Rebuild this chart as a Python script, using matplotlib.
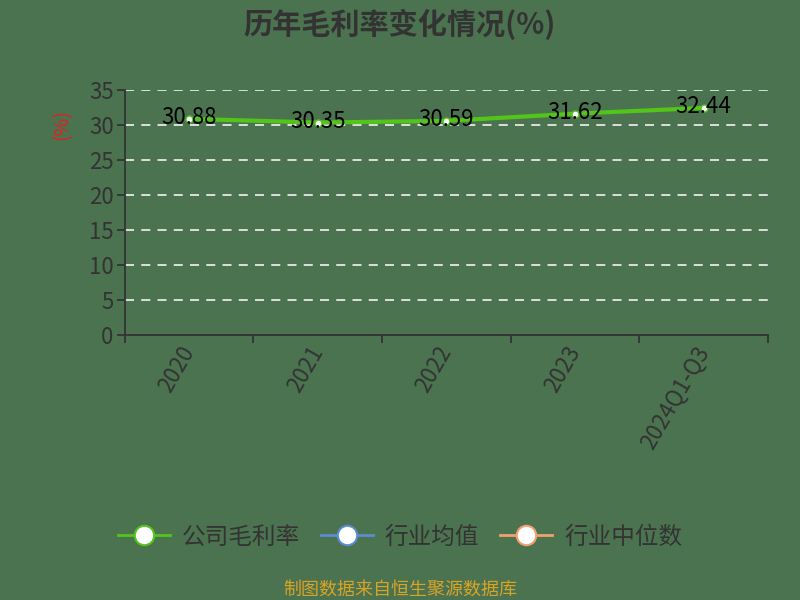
import matplotlib
matplotlib.use("Agg")
import matplotlib.pyplot as plt
from matplotlib.lines import Line2D

plt.rcParams['font.family'] = ['Noto Sans CJK SC', 'DejaVu Sans']

categories = ["2020", "2021", "2022", "2023", "2024Q1-Q3"]
gross_margin = [30.88, 30.35, 30.59, 31.62, 32.44]
y_ticks = [0, 5, 10, 15, 20, 25, 30, 35]

bg = "#4b7350"
dark = "#333333"
green = "#52c41a"

fig = plt.figure(figsize=(8, 6), dpi=100, facecolor=bg)
ax = fig.add_axes([0.156, 0.4417, 0.804, 0.4083], facecolor=bg)

x = list(range(len(categories)))
ax.plot(x, gross_margin, color=green, lw=3, marker='o', markersize=5,
        markerfacecolor='white', markeredgecolor=green, markeredgewidth=1, zorder=3)
for xi, v in zip(x, gross_margin):
    ax.text(xi, v + 0.2, f"{v:.2f}", ha='center', va='center', fontsize=16,
            color='black', zorder=4)

ax.set_xlim(-0.5, len(categories) - 0.5)
ax.set_ylim(0, 35)
ax.set_yticks(y_ticks)
ax.set_yticklabels([str(t) for t in y_ticks], fontsize=16, color=dark)
for t in y_ticks[1:]:
    ax.axhline(t, color='#e8e8e8', lw=1.3, ls=(0, (5, 4)), zorder=1)

ax.set_xticks([i - 0.5 for i in range(len(categories) + 1)])
ax.set_xticklabels([])
ax.set_xticks(x, minor=True)
ax.set_xticklabels(categories, minor=True, rotation=60, ha='right', va='center',
                   rotation_mode='anchor', fontsize=16, color=dark)
ax.tick_params(axis='x', which='minor', length=0, pad=9)
ax.tick_params(axis='x', which='major', length=6, color=dark, width=1.3)
ax.tick_params(axis='y', length=6, color=dark, width=1.3, pad=2)

for s in ['top', 'right']:
    ax.spines[s].set_visible(False)
for s in ['left', 'bottom']:
    ax.spines[s].set_color(dark)
    ax.spines[s].set_linewidth(1.3)

fig.text(62 / 800, 1 - 125 / 600, "(%)", color='#dd2222', fontsize=14,
         rotation=90, ha='center', va='center')

fig.text(0.5, 0.96, "历年毛利率变化情况(%)", ha='center', va='center',
         fontsize=21, fontweight='bold', color=dark)

handles = [
    Line2D([], [], color=green, lw=2, marker='o', markersize=14,
           markerfacecolor='white', markeredgecolor=green, markeredgewidth=1.5),
    Line2D([], [], color='#5b8bd0', lw=2, marker='o', markersize=14,
           markerfacecolor='white', markeredgecolor='#5b8bd0', markeredgewidth=1.5),
    Line2D([], [], color='#f0a070', lw=2, marker='o', markersize=14,
           markerfacecolor='white', markeredgecolor='#f0a070', markeredgewidth=1.5),
]
labels = ["公司毛利率", "行业均值", "行业中位数"]
leg = fig.legend(handles, labels, loc='center', bbox_to_anchor=(0.5, 0.105),
                 ncol=3, frameon=False, fontsize=17, handlelength=2.2,
                 columnspacing=0.9, handletextpad=0.5)
for t in leg.get_texts():
    t.set_color(dark)

fig.text(0.5, 0.018, "制图数据来自恒生聚源数据库", ha='center', va='center',
         fontsize=13, color='#d9a326')

fig.savefig("out.png", dpi=100, facecolor=bg)
